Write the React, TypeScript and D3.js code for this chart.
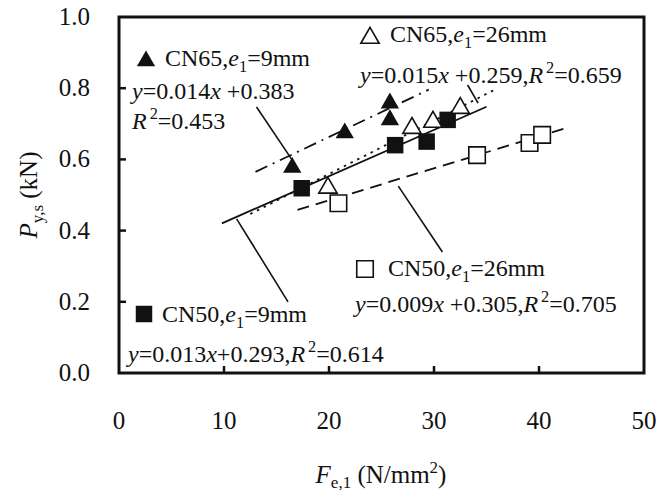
import React from "react";
import * as d3 from "d3";

// CN65, e1 = 9 mm (filled triangles)
const tri9X = [16.5, 21.5, 25.8, 25.8];
const tri9Y = [0.577, 0.674, 0.711, 0.758];
// CN65, e1 = 26 mm (open triangles)
const tri26X = [19.9, 27.9, 29.9, 32.5];
const tri26Y = [0.52, 0.688, 0.705, 0.744];
// CN50, e1 = 9 mm (filled squares)
const sq9X = [17.4, 26.3, 29.3, 31.3];
const sq9Y = [0.519, 0.64, 0.65, 0.711];
// CN50, e1 = 26 mm (open squares)
const sq26X = [20.9, 34.1, 39.1, 40.3];
const sq26Y = [0.477, 0.612, 0.646, 0.669];

// regression lines: [slope, intercept], drawn x range
const fitTri9 = [0.014, 0.383];
const fitTri26 = [0.015, 0.259];
const fitSq9 = [0.013, 0.293];
const fitSq26 = [0.009, 0.305];
const rangeTri9 = [13, 29.5];
const rangeTri26 = [12.5, 36];
const rangeSq9 = [9.8, 35];
const rangeSq26 = [17, 42.5];

const xTicks = [0, 10, 20, 30, 40, 50];
const yTicks = [0, 0.2, 0.4, 0.6, 0.8, 1.0];

const FONT = "Liberation Serif, Times New Roman, DejaVu Serif, serif";

type Seg = { t: string; i?: boolean; sub?: boolean; sup?: boolean; dx?: number };

function Rich({ x, y, segs, size = 24, anchor = "start", transform, subShift = 0.24 }: any) {
  let shift = 0;
  const parts = segs.map((s: Seg, k: number) => {
    const target = s.sub ? size * subShift : s.sup ? -size * 0.42 : 0;
    const dy = target - shift;
    shift = target;
    return (
      <tspan
        key={k}
        dy={dy !== 0 ? dy : undefined}
        dx={s.dx}
        style={{ fontStyle: s.i ? "italic" : "normal", fontSize: s.sub || s.sup ? size * 0.68 : size }}
      >
        {s.t}
      </tspan>
    );
  });
  return (
    <text x={x} y={y} textAnchor={anchor} transform={transform} fill="#111"
      style={{ whiteSpace: "pre", fontFamily: FONT, fontSize: size }}>
      {parts}
    </text>
  );
}

export default function App() {
  const x = d3.scaleLinear().domain([0, 50]).range([119, 644]);
  const y = d3.scaleLinear().domain([0, 1]).range([373, 17]);

  const triPath = d3.symbol().type(d3.symbolTriangle).size(145)()!;
  const sqPath = d3.symbol().type(d3.symbolSquare).size(272)()!;

  const fitLine = (fit: number[], r: number[]) =>
    d3.line<number>().x((d) => x(d)).y((d) => y(fit[0] * d + fit[1]))(r)!;

  const pts = (xs: number[], ys: number[]) => xs.map((v, i) => [v, ys[i]]);

  const leader = (a: number[], b: number[], k: string) => (
    <line key={k} x1={x(a[0])} y1={y(a[1])} x2={x(b[0])} y2={y(b[1])} stroke="#111" strokeWidth={1.6} />
  );

  const tickStyle = { fontFamily: FONT, fontSize: 25 };

  return (
    <svg width={659} height={493} style={{ position: "absolute", left: 0, top: 0, background: "#fff" }}>
      {/* trend lines */}
      <path d={fitLine(fitTri9, rangeTri9)} fill="none" stroke="#111" strokeWidth={1.8} strokeDasharray="13,6,2,6" />
      <path d={fitLine(fitTri26, rangeTri26)} fill="none" stroke="#111" strokeWidth={1.8} strokeDasharray="2.5,5" />
      <path d={fitLine(fitSq9, rangeSq9)} fill="none" stroke="#111" strokeWidth={1.8} />
      <path d={fitLine(fitSq26, rangeSq26)} fill="none" stroke="#111" strokeWidth={1.8} strokeDasharray="12,7" />

      {/* leaders */}
      {leader([13.1, 0.747], [16.5, 0.598], "l1")}
      {leader([33.2, 0.809], [34.2, 0.758], "l2")}
      {leader([26.6, 0.525], [30.8, 0.34], "l3")}
      {leader([11.2, 0.433], [16.1, 0.2], "l4")}

      {/* markers */}
      {pts(sq26X, sq26Y).map((d, i) => (
        <path key={"s26" + i} d={sqPath} transform={`translate(${x(d[0])},${y(d[1])})`} fill="#fff" stroke="#111" strokeWidth={1.6} />
      ))}
      {pts(sq9X, sq9Y).map((d, i) => (
        <path key={"s9" + i} d={sqPath} transform={`translate(${x(d[0])},${y(d[1])})`} fill="#111" />
      ))}
      {pts(tri26X, tri26Y).map((d, i) => (
        <path key={"t26" + i} d={triPath} transform={`translate(${x(d[0])},${y(d[1])})`} fill="#fff" stroke="#111" strokeWidth={1.6} />
      ))}
      {pts(tri9X, tri9Y).map((d, i) => (
        <path key={"t9" + i} d={triPath} transform={`translate(${x(d[0])},${y(d[1])})`} fill="#111" />
      ))}

      {/* frame */}
      <rect x={x(0)} y={y(1)} width={x(50) - x(0)} height={y(0) - y(1)} fill="none" stroke="#111" strokeWidth={3} />
      {yTicks.slice(1, -1).map((t) => (
        <line key={"yt" + t} x1={x(0)} x2={x(0) + 7} y1={y(t)} y2={y(t)} stroke="#111" strokeWidth={2.5} />
      ))}
      {xTicks.slice(1, -1).map((t) => (
        <line key={"xt" + t} x1={x(t)} x2={x(t)} y1={y(0)} y2={y(0) - 7} stroke="#111" strokeWidth={2.5} />
      ))}

      {/* tick labels */}
      {yTicks.map((t) => (
        <text key={"yl" + t} x={90} y={y(t) + 8} textAnchor="end" fill="#111" style={tickStyle}>
          {t.toFixed(1)}
        </text>
      ))}
      {xTicks.map((t) => (
        <text key={"xl" + t} x={x(t)} y={429} textAnchor="middle" fill="#111" style={tickStyle}>
          {t}
        </text>
      ))}

      {/* axis titles */}
      <Rich x={381} y={483} anchor="middle" size={25} subShift={0.2}
        segs={[{ t: "F", i: true }, { t: "e,1", sub: true }, { t: " (N/mm" }, { t: "2", sup: true }, { t: ")" }]} />
      <Rich x={0} y={0} anchor="middle" size={25} transform="translate(37,195) rotate(-90)"
        segs={[{ t: "P", i: true }, { t: "y,s", sub: true }, { t: " (kN)" }]} />

      {/* legend / annotations */}
      <path d={triPath} transform="translate(146,61)" fill="#111" />
      <Rich x={165} y={66} segs={[{ t: "CN65," }, { t: "e", i: true }, { t: "1", sub: true }, { t: "=9mm" }]} />
      <Rich x={132} y={99} segs={[{ t: "y", i: true }, { t: "=0.014" }, { t: "x", i: true }, { t: " +0.383" }]} />
      <Rich x={132} y={129} segs={[{ t: "R", i: true }, { t: "2", sup: true, dx: 3 }, { t: "=0.453" }]} />

      <path d={triPath} transform="translate(370,38)" fill="#fff" stroke="#111" strokeWidth={1.6} />
      <Rich x={390} y={42} segs={[{ t: "CN65," }, { t: "e", i: true }, { t: "1", sub: true }, { t: "=26mm" }]} />
      <Rich x={360} y={83} segs={[{ t: "y", i: true }, { t: "=0.015" }, { t: "x", i: true }, { t: " +0.259," }, { t: "R", i: true }, { t: "2", sup: true, dx: 3 }, { t: "=0.659" }]} />

      <path d={sqPath} transform="translate(365,269)" fill="#fff" stroke="#111" strokeWidth={1.6} />
      <Rich x={388} y={276} segs={[{ t: "CN50," }, { t: "e", i: true }, { t: "1", sub: true }, { t: "=26mm" }]} />
      <Rich x={355} y={312} segs={[{ t: "y", i: true }, { t: "=0.009" }, { t: "x", i: true }, { t: " +0.305," }, { t: "R", i: true }, { t: "2", sup: true, dx: 3 }, { t: "=0.705" }]} />

      <path d={sqPath} transform="translate(144,314)" fill="#111" />
      <Rich x={162} y={322} segs={[{ t: "CN50," }, { t: "e", i: true }, { t: "1", sub: true }, { t: "=9mm" }]} />
      <Rich x={128} y={362} segs={[{ t: "y", i: true }, { t: "=0.013" }, { t: "x", i: true }, { t: "+0.293," }, { t: "R", i: true }, { t: "2", sup: true, dx: 3 }, { t: "=0.614" }]} />
    </svg>
  );
}
